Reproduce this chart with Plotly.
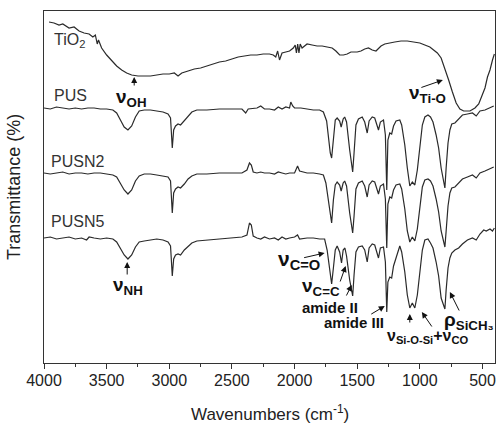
import plotly.graph_objects as go

# ---------------- data ----------------
tio2_wn = [3960, 3920, 3880, 3850, 3800, 3760, 3720, 3680, 3640, 3610, 3590, 3575, 3565, 3540, 3500, 3460,
           3420, 3380, 3340, 3300, 3250, 3200, 3150, 3100, 3050, 3000, 2960, 2930, 2900, 2850, 2800, 2750,
           2700, 2650, 2600, 2550, 2500, 2450, 2400, 2350, 2300, 2250, 2200, 2170, 2150, 2135, 2120, 2100,
           2070, 2040, 2010, 1995, 1985, 1975, 1965, 1955, 1940, 1900, 1860, 1820, 1780, 1740, 1700, 1670,
           1640, 1610, 1580, 1550, 1500, 1470, 1440, 1410, 1380, 1350, 1310, 1280, 1250, 1200, 1150, 1100,
           1050, 1000, 960, 920, 890, 860, 830, 800, 770, 740, 710, 680, 650, 600, 560, 530, 500, 480, 460,
           440, 420, 405]
tio2_t = [341, 340, 338, 339, 335, 336, 332, 330, 329, 326, 328, 319, 323, 315, 308, 302,
          297, 293, 290, 288, 287, 287, 287, 288, 289, 289, 290, 287, 290, 292, 294, 295,
          297, 299, 301, 302, 304, 306, 307, 308, 308, 309, 309, 308, 306, 312, 303, 310,
          311, 312, 315, 318, 310, 319, 310, 319, 315, 319, 318, 317, 317, 316, 315, 312,
          308, 308, 309, 311, 311, 312, 314, 315, 313, 312, 317, 319, 320, 321, 322, 322,
          321, 320, 318, 316, 313, 310, 305, 295, 283, 271, 260, 254, 252, 252, 255, 259, 268, 275, 286,
          293, 303, 309]

pus_wn = [4000, 3950, 3900, 3850, 3800, 3750, 3700, 3650, 3600, 3550, 3500, 3450, 3420, 3390, 3360, 3330,
          3300, 3270, 3240, 3200, 3150, 3100, 3050, 3010, 2990, 2976, 2965, 2950, 2930, 2910, 2880, 2850,
          2820, 2780, 2700, 2600, 2500, 2420, 2390, 2370, 2300, 2270, 2240, 2200, 2160, 2130, 2100, 2070,
          2040, 2030, 2015, 2000, 1950, 1900, 1850, 1800, 1770, 1744, 1730, 1715, 1704, 1690, 1675, 1660,
          1640, 1628, 1612, 1600, 1585, 1560, 1536, 1525, 1510, 1490, 1460, 1440, 1420, 1405, 1380, 1360,
          1330, 1315, 1290, 1275, 1264, 1255, 1240, 1225, 1210, 1190, 1170, 1160, 1145, 1120, 1100, 1080,
          1060, 1040, 1020, 1000, 980, 960, 935, 915, 895, 870, 850, 830, 810, 800, 790, 775, 760, 745,
          720, 690, 660, 620, 580, 550, 520, 480, 440, 410]
pus_t = [255, 254, 256, 255, 254, 255, 254, 255, 255, 254, 254, 253, 250, 243, 236, 233,
         237, 246, 252, 253, 253, 252, 251, 249, 245, 215, 233, 237, 239, 238, 242, 247,
         251, 253, 253, 254, 254, 254, 250, 254, 255, 257, 254, 254, 253, 256, 254, 256,
         255, 261, 257, 255, 255, 254, 253, 253, 251, 242, 225, 210, 205, 228, 243, 245,
         242, 236, 244, 246, 241, 213, 191, 210, 238, 244, 246, 241, 230, 242, 246, 245,
         233, 241, 243, 228, 173, 223, 230, 229, 237, 242, 243, 243, 238, 218, 195, 177,
         181, 178, 193, 218, 238, 246, 248, 246, 241, 228, 215, 195, 182, 175, 195, 220, 233, 239,
         240, 244, 248, 249, 250, 247, 252, 253, 255, 257]

pusn2_wn = [4000, 3950, 3900, 3850, 3800, 3750, 3700, 3650, 3600, 3550, 3500, 3450, 3420, 3390, 3360, 3330,
            3300, 3270, 3240, 3200, 3150, 3100, 3050, 3010, 2990, 2976, 2965, 2950, 2930, 2910, 2880, 2850,
            2820, 2780, 2700, 2600, 2500, 2420, 2380, 2360, 2345, 2330, 2300, 2270, 2240, 2200, 2160, 2130,
            2100, 2070, 2040, 2000, 1976, 1960, 1900, 1850, 1800, 1770, 1750, 1730, 1715, 1704, 1690, 1675,
            1660, 1640, 1628, 1612, 1600, 1585, 1560, 1536, 1525, 1510, 1490, 1460, 1440, 1420, 1405, 1380,
            1360, 1330, 1315, 1290, 1275, 1264, 1255, 1240, 1225, 1210, 1190, 1170, 1160, 1145, 1120, 1100,
            1080, 1060, 1040, 1020, 1000, 980, 960, 935, 915, 895, 870, 850, 830, 810, 800, 790, 775, 760,
            745, 720, 690, 660, 620, 580, 550, 520, 480, 440, 410]
pusn2_t = [190, 189, 190, 191, 189, 190, 190, 189, 190, 190, 189, 188, 186, 180, 173, 169,
           173, 182, 187, 189, 189, 188, 187, 186, 182, 150, 170, 174, 176, 175, 179, 184,
           187, 189, 189, 190, 190, 190, 193, 200, 198, 191, 190, 191, 190, 190, 189, 191,
           190, 189, 190, 190, 197, 192, 190, 190, 189, 188, 180, 162, 146, 140, 163, 178,
           181, 178, 172, 180, 182, 177, 150, 130, 147, 174, 180, 182, 177, 166, 178, 182,
           181, 169, 177, 179, 164, 115, 159, 166, 165, 173, 178, 179, 179, 174, 154, 132,
           121, 126, 122, 134, 157, 176, 183, 184, 182, 177, 164, 151, 132, 120, 116, 132, 157, 170,
           175, 176, 180, 184, 186, 188, 185, 190, 192, 194, 196]

pusn5_wn = [4000, 3950, 3900, 3850, 3800, 3750, 3700, 3660, 3640, 3600, 3550, 3500, 3450, 3420, 3390, 3360,
            3330, 3300, 3270, 3240, 3200, 3150, 3100, 3050, 3010, 2990, 2976, 2965, 2950, 2930, 2910, 2880,
            2850, 2820, 2780, 2700, 2600, 2500, 2420, 2380, 2360, 2345, 2330, 2300, 2270, 2240, 2200, 2160,
            2130, 2100, 2070, 2040, 2000, 1976, 1960, 1900, 1850, 1800, 1760, 1740, 1720, 1704, 1690, 1675,
            1660, 1640, 1625, 1612, 1598, 1585, 1560, 1536, 1525, 1510, 1490, 1460, 1440, 1420, 1405, 1380,
            1360, 1330, 1315, 1290, 1275, 1264, 1255, 1240, 1225, 1210, 1190, 1170, 1160, 1145, 1120, 1100,
            1080, 1060, 1040, 1020, 1000, 980, 960, 935, 915, 895, 870, 850, 830, 810, 800, 790, 775, 760,
            745, 720, 690, 660, 620, 580, 550, 520, 490, 470, 440, 420, 405]
pusn5_t = [125, 126, 124, 125, 126, 124, 125, 123, 126, 125, 124, 125, 124, 121, 115, 108,
           104, 108, 116, 121, 122, 123, 124, 123, 121, 117, 87, 104, 108, 109, 108, 113,
           117, 120, 122, 123, 124, 125, 126, 128, 140, 138, 127, 125, 124, 126, 124, 125,
           123, 126, 124, 125, 126, 128, 124, 125, 125, 124, 124, 113, 95, 79, 95, 113,
           117, 111, 100, 113, 115, 107, 83, 67, 88, 111, 116, 117, 113, 101, 115, 119,
           118, 105, 115, 116, 101, 51, 81, 86, 85, 97, 105, 115, 117, 111, 91, 68,
           55, 60, 55, 68, 93, 113, 123, 124, 120, 115, 101, 87, 65, 57, 54, 73, 95, 105,
           110, 113, 115, 119, 123, 125, 123, 129, 133, 132, 134, 132, 135]

x_ticks = [4000, 3500, 3000, 2500, 2000, 1500, 1000, 500]

# ---------------- figure ----------------
LINE = "#2a2a2a"
FONT = "Liberation Sans, Arial, sans-serif"
fig = go.Figure()
for wn, t in [(tio2_wn, tio2_t), (pus_wn, pus_t), (pusn2_wn, pusn2_t), (pusn5_wn, pusn5_t)]:
    fig.add_trace(go.Scatter(x=wn, y=t, mode="lines", line=dict(color=LINE, width=1.2),
                             showlegend=False, hoverinfo="skip"))

ann = []
# sample labels
for txt, x, y in [("TiO<sub>2</sub>", 3936, 323), ("PUS", 3936, 268),
                  ("PUSN2", 3960, 202), ("PUSN5", 3960, 142)]:
    ann.append(dict(x=x, y=y, text=txt, showarrow=False, xanchor="left", yanchor="middle",
                    font=dict(family=FONT, size=16, color="#333333")))

# band labels (text)
def bf(size):
    return dict(family=FONT, size=size, color="#111111")

for txt, x, y, f in [
    ("<b>ν<sub>OH</sub></b>", 3304, 265, bf(19)),
    ("<b>ν<sub>Ti-O</sub></b>", 936, 269, bf(19)),
    ("<b>ν<sub>NH</sub></b>", 3328, 77, bf(19)),
    ("<b>ν<sub>C=O</sub></b>", 1968, 103, bf(21)),
    ("<b>ν<sub>C=C</sub></b>", 1792, 76, bf(19)),
    ("<b>amide II</b>", 1720, 56, bf(15)),
    ("<b>amide III</b>", 1528, 41, bf(15)),
    ("<b>ν<sub>Si-O-Si</sub>+ν<sub>CO</sub></b>", 936, 27, bf(16)),
    ("<b>ρ<sub>SiCH₃</sub></b>", 610, 42, bf(19)),
]:
    ann.append(dict(x=x, y=y, text=txt, showarrow=False, xanchor="center", yanchor="middle", font=f))

# arrows (tip in data coords, tail offset in pixels)
for x, y, ax, ay in [
    (3280, 286, 0, 10),
    (816, 283, -23, 8),
    (3336, 101, 0, 14),
    (1760, 110, -22, 5),
    (1592, 97, -6, 17),
    (1544, 78, -6, 12),
    (1280, 57, -15, 9),
    (1080, 49, 0, 10),
    (984, 51, 11, 16),
    (760, 71, 10, 20),
]:
    ann.append(dict(x=x, y=y, ax=ax, ay=ay, text="", showarrow=True, arrowhead=2,
                    arrowsize=1.2, arrowwidth=1.0, arrowcolor="#111111"))

# axis titles
ann.append(dict(x=0.5, y=0, xref="paper", yref="paper", yshift=-50, showarrow=False,
                text="Wavenumbers (cm<sup>-1</sup>)", xanchor="center", yanchor="middle",
                font=dict(family=FONT, size=17, color="#222222")))
ann.append(dict(x=0, y=0.5, xref="paper", yref="paper", xshift=-30, showarrow=False,
                text="Transmittance (%)", textangle=-90, xanchor="center", yanchor="middle",
                font=dict(family=FONT, size=18, color="#222222")))

fig.update_layout(
    width=497, height=428,
    margin=dict(l=44, r=2, t=11, b=65),
    paper_bgcolor="white", plot_bgcolor="white",
    annotations=ann,
    xaxis=dict(range=[4000, 400], tickvals=x_ticks, ticks="outside", ticklen=5, tickwidth=1,
               tickcolor="#333333", showline=True, linecolor="#333333", linewidth=1, mirror=True,
               showgrid=False, zeroline=False, ticklabelstandoff=-2,
               tickfont=dict(family=FONT, size=16, color="#222222"),
               minor=dict(dtick=250, ticks="outside", ticklen=3, tickcolor="#333333", showgrid=False)),
    yaxis=dict(range=[0, 352], showticklabels=False, ticks="", showline=True, linecolor="#333333",
               linewidth=1, mirror=True, showgrid=False, zeroline=False),
)

fig.write_html("out.html", config={"displayModeBar": False},
               post_script="document.body.style.margin='0px';document.body.style.overflow='hidden';")
